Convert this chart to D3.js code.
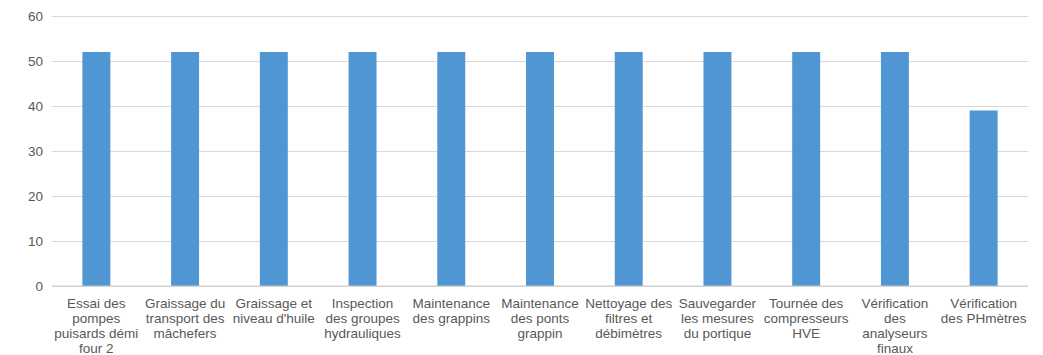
<!DOCTYPE html>
<html>
<head>
<meta charset="utf-8">
<script src="https://cdn.jsdelivr.net/npm/d3@7"></script>
<style>
  html, body { margin: 0; padding: 0; background: #fff; }
  svg { display: block; font-family: "Liberation Sans", Arial, sans-serif; }
</style>
</head>
<body>
<svg id="chart" width="1043" height="355"></svg>
<script>
// Category labels, each split into the lines they are shown on
const categories = [
  ["Essai des", "pompes", "puisards démi", "four 2"],
  ["Graissage du", "transport des", "mâchefers"],
  ["Graissage et", "niveau d'huile"],
  ["Inspection", "des groupes", "hydrauliques"],
  ["Maintenance", "des grappins"],
  ["Maintenance", "des ponts", "grappin"],
  ["Nettoyage des", "filtres et", "débimètres"],
  ["Sauvegarder", "les mesures", "du portique"],
  ["Tournée des", "compresseurs", "HVE"],
  ["Vérification", "des", "analyseurs", "finaux"],
  ["Vérification", "des PHmètres"]
];
const values = [52, 52, 52, 52, 52, 52, 52, 52, 52, 52, 39];
const yTicks = [0, 10, 20, 30, 40, 50, 60];

const svg = d3.select("#chart");
const margin = { left: 52, right: 15, top: 16, bottom: 69 };
const W = 1043, H = 355;

const x = d3.scaleBand()
  .domain(d3.range(categories.length))
  .range([margin.left, W - margin.right])
  .paddingInner(0.685)
  .paddingOuter(0.3425);

const y = d3.scaleLinear()
  .domain([0, 60])
  .range([H - margin.bottom, margin.top]);

// Horizontal gridlines and y tick labels
const yAxis = d3.axisLeft(y)
  .tickValues(yTicks)
  .tickSize(-(W - margin.right - margin.left))
  .tickPadding(9)
  .tickFormat(d3.format("d"));

const gy = svg.append("g")
  .attr("transform", `translate(${margin.left},0)`)
  .call(yAxis);
gy.select(".domain").remove();
gy.selectAll(".tick line").attr("stroke", "#d9d9d9").attr("stroke-width", 1);
gy.selectAll(".tick text")
  .attr("fill", "#595959")
  .style("font-size", "13.5px");

// Bars
svg.append("g").selectAll("rect")
  .data(values)
  .join("rect")
  .attr("x", (d, i) => x(i))
  .attr("width", x.bandwidth())
  .attr("y", d => y(d))
  .attr("height", d => y(0) - y(d))
  .attr("fill", "#5096d3");

// Baseline
svg.append("line")
  .attr("x1", margin.left).attr("x2", W - margin.right)
  .attr("y1", y(0)).attr("y2", y(0))
  .attr("stroke", "#cccccc");

// Multi-line category labels
const labels = svg.append("g").selectAll("text")
  .data(categories)
  .join("text")
  .attr("x", (d, i) => x(i) + x.bandwidth() / 2)
  .attr("y", y(0) + 21.5)
  .attr("text-anchor", "middle")
  .attr("fill", "#595959")
  .style("font-size", "13.5px");

labels.selectAll("tspan")
  .data(d => d)
  .join("tspan")
  .attr("x", function () { return d3.select(this.parentNode).attr("x"); })
  .attr("dy", (d, i) => i === 0 ? 0 : 15)
  .text(d => d);
</script>
</body>
</html>
